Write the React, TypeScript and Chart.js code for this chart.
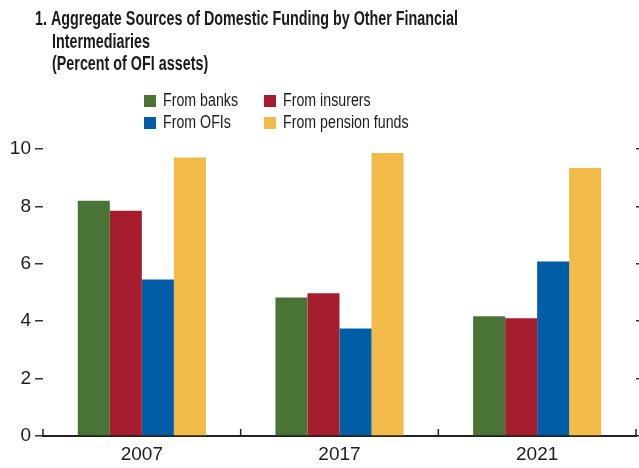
import React, { useEffect, useRef } from "react";
import { Chart, registerables } from "chart.js";

Chart.register(...registerables);

const categories = ["2007", "2017", "2021"];
const seriesLabels = ["From banks", "From insurers", "From OFIs", "From pension funds"];
const fromBanks = [8.2, 4.83, 4.17];
const fromInsurers = [7.85, 4.97, 4.1];
const fromOFIs = [5.45, 3.75, 6.08];
const fromPensionFunds = [9.7, 9.86, 9.34];
const seriesColors = ["#4A7336", "#A61E2E", "#005DA6", "#F2BA48"];
const yTickValues = [0, 2, 4, 6, 8, 10];
const titleLines = [
  "1. Aggregate Sources of Domestic Funding by Other Financial",
  "Intermediaries",
  "(Percent of OFI assets)",
];

const FONT = "'Liberation Sans', Arial, sans-serif";

const titlePlugin = {
  id: "customTitle",
  afterDraw(chart: any) {
    const ctx = chart.ctx;
    ctx.save();
    ctx.fillStyle = "#1a1a1a";
    ctx.textBaseline = "alphabetic";
    ctx.textAlign = "left";
    ctx.font = `bold 20px ${FONT}`;
    const s = 423 / ctx.measureText(titleLines[0]).width;
    const lines: [string, number, number][] = [
      [titleLines[0], 35, 25],
      [titleLines[1], 52, 48],
      [titleLines[2], 52, 70],
    ];
    lines.forEach(([t, x, y]) => {
      ctx.save();
      ctx.translate(x, y);
      ctx.scale(s, 1);
      ctx.fillText(t, 0, 0);
      ctx.restore();
    });
    ctx.restore();
  },
};

const legendPlugin = {
  id: "customLegend",
  afterDraw(chart: any) {
    const ctx = chart.ctx;
    const ds = chart.data.datasets;
    const pos = [
      [144, 95],
      [264, 95],
      [144, 117],
      [264, 117],
    ];
    ctx.save();
    ctx.font = `17.5px ${FONT}`;
    ctx.textBaseline = "middle";
    ctx.textAlign = "left";
    const s = 75 / ctx.measureText(ds[0].label).width;
    ds.forEach((d: any, i: number) => {
      const [x, y] = pos[i];
      ctx.fillStyle = d.backgroundColor;
      ctx.fillRect(x, y, 12, 12);
      ctx.fillStyle = "#1a1a1a";
      ctx.save();
      ctx.translate(x + 19, y + 6.5);
      ctx.scale(s, 1);
      ctx.fillText(d.label, 0, 0);
      ctx.restore();
    });
    ctx.restore();
  },
};

const boundaryTicksPlugin = {
  id: "boundaryTicks",
  afterDatasetsDraw(chart: any) {
    const ctx = chart.ctx;
    const xs = chart.scales.x;
    const n = chart.data.labels.length;
    const w = (xs.right - xs.left) / n;
    ctx.save();
    ctx.strokeStyle = "#222";
    ctx.lineWidth = 1.5;
    for (let i = 0; i <= n; i++) {
      const x = xs.left + i * w;
      ctx.beginPath();
      ctx.moveTo(x, xs.top);
      ctx.lineTo(x, xs.top - 7);
      ctx.stroke();
    }
    ctx.restore();
  },
};

export default function App() {
  const ref = useRef<HTMLCanvasElement | null>(null);

  useEffect(() => {
    document.body.style.margin = "0";
    const values = [fromBanks, fromInsurers, fromOFIs, fromPensionFunds];
    const chart = new Chart(ref.current as HTMLCanvasElement, {
      type: "bar",
      data: {
        labels: categories,
        datasets: values.map((v, i) => ({
          label: seriesLabels[i],
          data: v,
          backgroundColor: seriesColors[i],
          borderWidth: 0,
          barPercentage: 1,
          categoryPercentage: 0.648,
        })),
      },
      options: {
        animation: false,
        responsive: false,
        maintainAspectRatio: false,
        layout: { padding: { top: 149, left: 0, right: 0, bottom: 0 } },
        plugins: {
          legend: { display: false },
          title: { display: false },
          tooltip: { enabled: false },
        },
        scales: {
          x: {
            grid: { display: false, drawTicks: false },
            border: { display: true, color: "#222", width: 2 },
            ticks: { font: { family: FONT, size: 19 }, color: "#1a1a1a", padding: 7 },
            afterFit(scale: any) {
              scale.height = 32;
            },
          },
          y: {
            position: "left",
            min: 0,
            max: 10,
            afterBuildTicks(scale: any) {
              scale.ticks = yTickValues.map((v) => ({ value: v }));
            },
            grid: { drawOnChartArea: false, drawTicks: true, tickLength: 8, color: "#333", lineWidth: 1.5 },
            border: { display: false },
            ticks: { font: { family: FONT, size: 19 }, color: "#1a1a1a", padding: 4 },
            afterFit(scale: any) {
              scale.width = 43;
            },
          },
          y2: {
            position: "right",
            min: 0,
            max: 10,
            afterBuildTicks(scale: any) {
              scale.ticks = yTickValues.map((v) => ({ value: v }));
            },
            grid: { drawOnChartArea: false, drawTicks: true, tickLength: 4, color: "#333", lineWidth: 1.5 },
            border: { display: false },
            ticks: { display: false },
            afterFit(scale: any) {
              scale.width = 3;
            },
          },
        },
      },
      plugins: [titlePlugin, legendPlugin, boundaryTicksPlugin],
    });
    return () => chart.destroy();
  }, []);

  return (
    <div style={{ position: "absolute", left: 0, top: 0, width: 639, height: 468 }}>
      <canvas ref={ref} width={639} height={468} style={{ width: 639, height: 468 }} />
    </div>
  );
}
